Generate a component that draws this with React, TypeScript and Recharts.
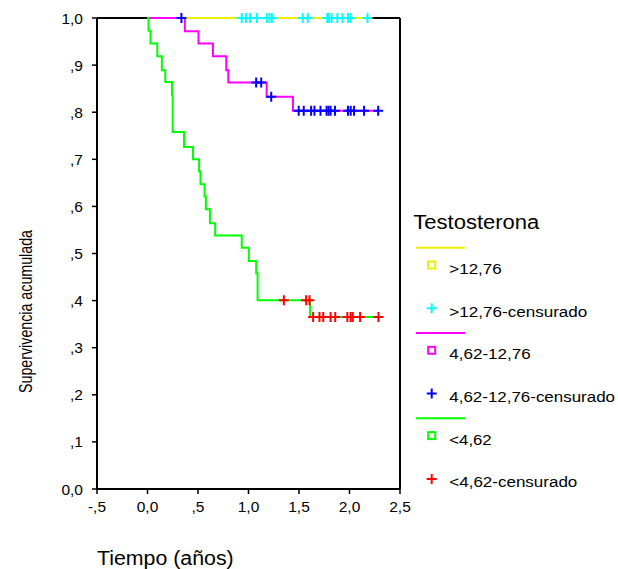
import React from "react";
import {
  ComposedChart,
  Line,
  Scatter,
  XAxis,
  YAxis,
  ReferenceLine,
  Label,
} from "recharts";

// ---------- axis ticks ----------
const xTicks = [-0.5, 0, 0.5, 1, 1.5, 2, 2.5];
const xTickLabels = ["-,5", "0,0", ",5", "1,0", "1,5", "2,0", "2,5"];
const yTicks = [0, 0.1, 0.2, 0.3, 0.4, 0.5, 0.6, 0.7, 0.8, 0.9, 1];
const yTickLabels = ["0,0", ",1", ",2", ",3", ",4", ",5", ",6", ",7", ",8", ",9", "1,0"];
const xDomain = [-0.5, 2.5];

// ---------- group >12,76 ----------
const highStepT = [0, 2.178];
const highStepS = [1, 1];
const highCensT = [0.933, 0.976, 1.016, 1.083, 1.182, 1.208, 1.232, 1.537, 1.587, 1.78, 1.796, 1.823, 1.88, 1.93, 1.985, 2.012, 2.178];
const highCensS = [1, 1, 1, 1, 1, 1, 1, 1, 1, 1, 1, 1, 1, 1, 1, 1, 1];

// ---------- group 4,62-12,76 ----------
const midStepT = [0, 0.37, 0.505, 0.648, 0.78, 0.8, 1.18, 1.44, 2.284];
const midStepS = [1, 0.972, 0.946, 0.919, 0.889, 0.863, 0.833, 0.803, 0.803];
const midCensT = [0.336, 1.076, 1.126, 1.225, 1.497, 1.547, 1.62, 1.653, 1.713, 1.773, 1.793, 1.813, 1.856, 1.985, 2.012, 2.045, 2.144, 2.284];
const midCensS = [1, 0.863, 0.863, 0.833, 0.803, 0.803, 0.803, 0.803, 0.803, 0.803, 0.803, 0.803, 0.803, 0.803, 0.803, 0.803, 0.803, 0.803];

// ---------- group <4,62 ----------
const lowStepT = [0, 0.01, 0.03, 0.097, 0.142, 0.176, 0.242, 0.249, 0.362, 0.451, 0.511, 0.525, 0.565, 0.578, 0.618, 0.67, 0.933, 1.003, 1.076, 1.09, 1.61, 2.287];
const lowStepS = [1, 0.973, 0.946, 0.919, 0.889, 0.864, 0.836, 0.758, 0.726, 0.7, 0.674, 0.647, 0.621, 0.594, 0.564, 0.538, 0.512, 0.484, 0.458, 0.401, 0.365, 0.365];
const lowCensT = [1.35, 1.571, 1.604, 1.64, 1.703, 1.74, 1.813, 1.859, 1.979, 2.012, 2.032, 2.105, 2.287];
const lowCensS = [0.401, 0.401, 0.401, 0.365, 0.365, 0.365, 0.365, 0.365, 0.365, 0.365, 0.365, 0.365, 0.365];

// ---------- legend ----------
const legendTitle = "Testosterona";
const legendNames = [">12,76", "4,62-12,76", "<4,62"];
const censSuffix = "-censurado";
const legendNameWidths = [52.4, 81.4, 42.4];
const legendCensWidths = [138, 165.7, 128];

const colors = {
  high: "#eeee00",
  highCens: "#00ffff",
  mid: "#ff00ff",
  midCens: "#0000ff",
  low: "#00ff00",
  lowCens: "#ff0000",
};

const zip = (ts: number[], ss: number[]) => ts.map((t, i) => ({ t, s: ss[i] }));

const highStep = zip(highStepT, highStepS);
const highCens = zip(highCensT, highCensS);
const midStep = zip(midStepT, midStepS);
const midCens = zip(midCensT, midCensS);
const lowStep = zip(lowStepT, lowStepS);
const lowCens = zip(lowCensT, lowCensS);

const FONT = "'Liberation Sans', Arial, sans-serif";
const W = 618;
const H = 569;

const plusShape = (color: string) => (props: any) => {
  const { cx, cy } = props;
  if (cx == null || cy == null) return <g />;
  return (
    <path
      d={`M${cx - 5},${cy}h10M${cx},${cy - 5}v10`}
      stroke={color}
      strokeWidth={2}
      fill="none"
    />
  );
};

const LegendOverlay = () => {
  const groupColors = [
    [colors.high, colors.highCens],
    [colors.mid, colors.midCens],
    [colors.low, colors.lowCens],
  ];
  const x0 = 416;
  const sqX = 431.7;
  const textX = 449.3;
  const lineY0 = 247.7;
  const period = 85.3;
  return (
    <svg
      width={W}
      height={H}
      style={{ position: "absolute", left: 0, top: 0, pointerEvents: "none" }}
    >
      <text
        x={413.3}
        y={229.3}
        fontSize={20}
        fontFamily={FONT}
        fill="#000"
        textLength={126}
        lengthAdjust="spacingAndGlyphs"
      >
        {legendTitle}
      </text>
      {legendNames.map((name, i) => {
        const ly = lineY0 + i * period;
        const [c1, c2] = groupColors[i];
        return (
          <g key={name}>
            <line x1={x0} x2={x0 + 49} y1={ly} y2={ly} stroke={c1} strokeWidth={2} />
            <rect x={sqX - 3.5} y={ly + 17.3 - 3.5} width={7} height={7} fill="none" stroke={c1} strokeWidth={2} />
            <text
              x={textX}
              y={ly + 26.3}
              fontSize={15.5}
              fontFamily={FONT}
              fill="#000"
              textLength={legendNameWidths[i]}
              lengthAdjust="spacingAndGlyphs"
            >
              {name}
            </text>
            <path
              d={`M${sqX - 5},${ly + 60.6}h10M${sqX},${ly + 55.6}v10`}
              stroke={c2}
              strokeWidth={2}
            />
            <text
              x={textX}
              y={ly + 69}
              fontSize={15.5}
              fontFamily={FONT}
              fill="#000"
              textLength={legendCensWidths[i]}
              lengthAdjust="spacingAndGlyphs"
            >
              {name + censSuffix}
            </text>
          </g>
        );
      })}
    </svg>
  );
};

const lastHighT = highStepT[highStepT.length - 1];

export default function App() {
  return (
    <div style={{ position: "absolute", left: 0, top: 0, width: W, height: H, fontFamily: FONT, overflow: "hidden" }}>
      <ComposedChart
        width={W}
        height={H}
        margin={{ top: 18, right: 218, left: 37, bottom: 50 }}
      >
        <XAxis
          dataKey="t"
          type="number"
          domain={xDomain}
          ticks={xTicks}
          interval={0}
          tickFormatter={(v: number, i: number) => xTickLabels[i]}
          height={30}
          tickSize={5}
          tickMargin={7}
          axisLine={{ stroke: "#000", strokeWidth: 2 }}
          tickLine={{ stroke: "#000", strokeWidth: 1.5 }}
          tick={{ fill: "#000", fontSize: 15.5, fontFamily: FONT }}
        >
          <Label
            content={(p: any) => {
              const vb = p.viewBox || { x: 97, y: 489 };
              return (
                <text
                  x={vb.x}
                  y={vb.y + 76}
                  fontSize={19.5}
                  fontFamily={FONT}
                  fill="#000"
                  textLength={136.7}
                  lengthAdjust="spacingAndGlyphs"
                >
                  Tiempo (años)
                </text>
              );
            }}
          />
        </XAxis>
        <YAxis
          dataKey="s"
          type="number"
          domain={[0, 1]}
          ticks={yTicks}
          interval={0}
          tickFormatter={(v: number, i: number) => yTickLabels[i]}
          width={60}
          tickSize={5}
          tickMargin={9}
          axisLine={{ stroke: "#000", strokeWidth: 2 }}
          tickLine={{ stroke: "#000", strokeWidth: 1.5 }}
          tick={{ fill: "#000", fontSize: 15.5, fontFamily: FONT }}
        >
          <Label
            content={(p: any) => {
              const vb = p.viewBox || { x: 37, y: 18 };
              const cx = vb.x - 11.3;
              const cy = vb.y + 293.5;
              return (
                <text
                  x={cx}
                  y={cy}
                  transform={`rotate(-90 ${cx} ${cy})`}
                  textAnchor="middle"
                  dominantBaseline="central"
                  fontSize={18}
                  fontFamily={FONT}
                  fill="#000"
                  textLength={163}
                  lengthAdjust="spacingAndGlyphs"
                >
                  Supervivencia acumulada
                </text>
              );
            }}
          />
        </YAxis>
        <ReferenceLine
          segment={[{ x: xDomain[0], y: 1 }, { x: 0, y: 1 }]}
          stroke="#000"
          strokeWidth={2}
          ifOverflow="visible"
        />
        <ReferenceLine
          segment={[{ x: lastHighT, y: 1 }, { x: xDomain[1], y: 1 }]}
          stroke="#000"
          strokeWidth={2}
          ifOverflow="visible"
        />
        <ReferenceLine x={xDomain[1]} stroke="#000" strokeWidth={2} ifOverflow="visible" />
        <Line data={highStep} dataKey="s" type="stepAfter" stroke={colors.high} strokeWidth={2} dot={false} activeDot={false} isAnimationActive={false} />
        <Line data={midStep} dataKey="s" type="stepAfter" stroke={colors.mid} strokeWidth={2} dot={false} activeDot={false} isAnimationActive={false} />
        <Line data={lowStep} dataKey="s" type="stepAfter" stroke={colors.low} strokeWidth={2} dot={false} activeDot={false} isAnimationActive={false} />
        <Scatter data={highCens} dataKey="s" shape={plusShape(colors.highCens)} isAnimationActive={false} />
        <Scatter data={midCens} dataKey="s" shape={plusShape(colors.midCens)} isAnimationActive={false} />
        <Scatter data={lowCens} dataKey="s" shape={plusShape(colors.lowCens)} isAnimationActive={false} />
      </ComposedChart>
      <LegendOverlay />
    </div>
  );
}
